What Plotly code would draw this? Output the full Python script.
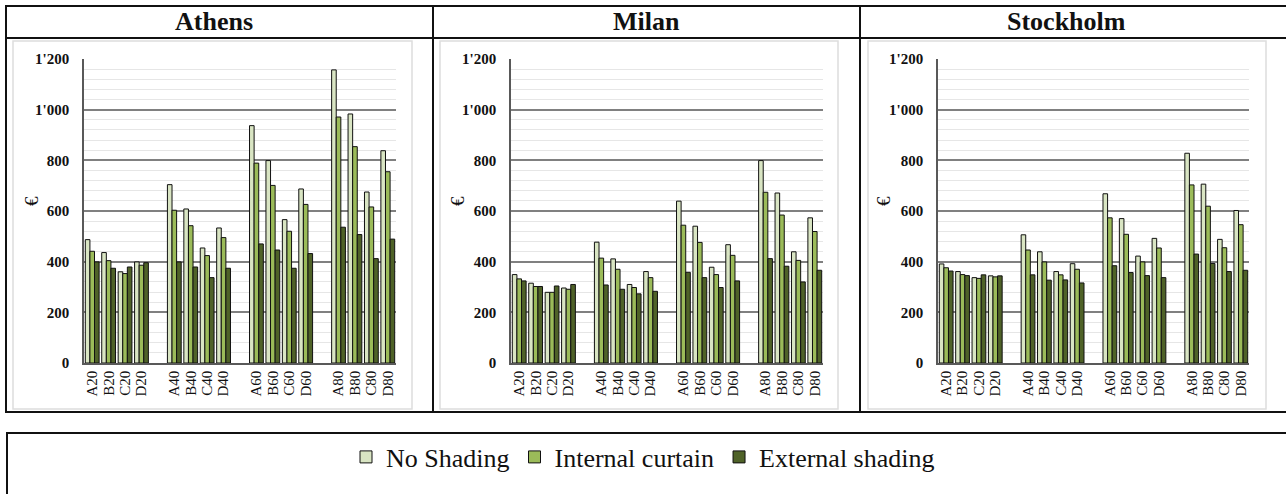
import plotly.graph_objects as go

W, H = 1286, 494
FONT = "Liberation Serif"

CATEGORIES = ["A20", "B20", "C20", "D20",
              "A40", "B40", "C40", "D40",
              "A60", "B60", "C60", "D60",
              "A80", "B80", "C80", "D80"]
SERIES = ["No Shading", "Internal curtain", "External shading"]
COLORS = ["#d9e5c3", "#9bbb59", "#4f6228"]
CITIES = ["Athens", "Milan", "Stockholm"]

# --- values (EUR) ---
athens_no_shading = [487, 436, 360, 399, 704, 608, 454, 533, 937, 799, 566, 687, 1157, 983, 675, 838]
athens_internal = [441, 404, 353, 386, 603, 542, 424, 495, 789, 701, 520, 626, 971, 854, 616, 755]
athens_external = [399, 374, 379, 396, 399, 379, 337, 374, 470, 446, 374, 432, 536, 507, 412, 489]

milan_no_shading = [349, 315, 279, 296, 477, 411, 310, 361, 639, 540, 378, 467, 799, 671, 439, 573]
milan_internal = [332, 302, 279, 291, 414, 370, 298, 337, 544, 476, 349, 425, 674, 584, 405, 519]
milan_external = [324, 302, 304, 310, 308, 291, 273, 283, 358, 337, 298, 324, 412, 382, 320, 366]

stockholm_no_shading = [391, 361, 337, 344, 506, 439, 361, 392, 668, 570, 422, 492, 828, 706, 488, 602]
stockholm_internal = [376, 349, 334, 340, 446, 399, 348, 370, 573, 508, 399, 454, 703, 619, 455, 546]
stockholm_external = [363, 345, 348, 344, 348, 327, 328, 316, 384, 357, 345, 337, 430, 393, 361, 366]

DATA = {
    "Athens": [athens_no_shading, athens_internal, athens_external],
    "Milan": [milan_no_shading, milan_internal, milan_external],
    "Stockholm": [stockholm_no_shading, stockholm_internal, stockholm_external],
}

# category order with an empty slot between the 20/40/60/80 groups
axis_order = []
for i, c in enumerate(CATEGORIES):
    if i and i % 4 == 0:
        axis_order.append(" " * (i // 4))
    axis_order.append(c)


def px_x(v):
    return v / W


def px_y(v):
    return 1 - v / H


# plot areas in pixels (left, right) and shared top/bottom
PLOT_X = [(84, 396), (511, 823), (938, 1249)]
PLOT_TOP, PLOT_BOTTOM = 59, 363
TITLE_X = [214, 646, 1066]
EURO_X = [31, 457, 883]

fig = go.Figure()

for k, city in enumerate(CITIES):
    suffix = "" if k == 0 else str(k + 1)
    for s, name in enumerate(SERIES):
        fig.add_trace(go.Bar(
            x=CATEGORIES, y=DATA[city][s], name=name,
            marker=dict(color=COLORS[s], line=dict(color="#111111", width=1)),
            xaxis="x" + suffix, yaxis="y" + suffix,
            showlegend=(k == 0), legendgroup=name,
        ))
    x0, x1 = PLOT_X[k]
    fig.update_layout(**{
        "xaxis" + suffix: dict(
            domain=[px_x(x0), px_x(x1)], anchor="y" + suffix,
            type="category", categoryorder="array", categoryarray=axis_order,
            range=[-0.5, len(axis_order) - 0.5],
            tickmode="array", tickvals=CATEGORIES, ticktext=CATEGORIES,
            tickangle=-90, tickfont=dict(family=FONT, size=15, color="#111111"),
            showline=True, linecolor="#595959", linewidth=1.5,
            showgrid=False, ticks="", automargin=False,
        ),
        "yaxis" + suffix: dict(
            domain=[px_y(PLOT_BOTTOM), px_y(PLOT_TOP)], anchor="x" + suffix,
            range=[0, 1200], dtick=200, tickformat=",d",
            tickfont=dict(family=FONT, size=15, color="#111111", weight="bold"),
            ticks="", ticklabelstandoff=10,
            showline=True, linecolor="#595959", linewidth=1.5,
            showgrid=True, gridcolor="#808080", gridwidth=1.5,
            minor=dict(dtick=40, showgrid=True, gridcolor="#e6e6e6", gridwidth=1),
            zeroline=False, automargin=False,
        ),
    })
    fig.add_annotation(
        x=px_x(TITLE_X[k]), y=px_y(22), xref="paper", yref="paper",
        xanchor="center", yanchor="middle",
        text="<b>" + city + "</b>", showarrow=False,
        font=dict(family=FONT, size=26, color="#111111"),
    )
    fig.add_annotation(
        x=px_x(EURO_X[k]), y=px_y(201), xref="paper", yref="paper",
        xanchor="center", yanchor="middle",
        text="€", textangle=-90, showarrow=False,
        font=dict(family=FONT, size=19, color="#111111"),
    )

# frames: outer boxes, title band, column separators, faint chart areas
shapes = [
    dict(type="rect", x0=px_x(6), x1=px_x(1300), y0=px_y(6), y1=px_y(412),
         line=dict(color="#111111", width=2)),
    dict(type="line", x0=px_x(6), x1=px_x(1300), y0=px_y(38), y1=px_y(38),
         line=dict(color="#111111", width=2)),
    dict(type="line", x0=px_x(433), x1=px_x(433), y0=px_y(6), y1=px_y(412),
         line=dict(color="#111111", width=2)),
    dict(type="line", x0=px_x(860), x1=px_x(860), y0=px_y(6), y1=px_y(412),
         line=dict(color="#111111", width=2)),
    dict(type="rect", x0=px_x(7), x1=px_x(1300), y0=px_y(433), y1=px_y(510),
         line=dict(color="#111111", width=2)),
]
for a, b in [(13, 412), (440, 838), (868, 1266)]:
    shapes.append(dict(type="rect", x0=px_x(a), x1=px_x(b), y0=px_y(41), y1=px_y(409),
                       line=dict(color="#dddddd", width=1.5), layer="below"))
for s in shapes:
    s.update(xref="paper", yref="paper")

fig.update_layout(
    width=W, height=H,
    margin=dict(l=0, r=0, t=0, b=0, pad=0, autoexpand=False),
    paper_bgcolor="white", plot_bgcolor="white",
    barmode="group", bargap=0.16, bargroupgap=0,
    shapes=shapes,
    separators=".'",
    font=dict(family=FONT, color="#111111"),
    legend=dict(orientation="h", x=0.5, xanchor="center", y=px_y(457), yanchor="middle",
                font=dict(family=FONT, size=26, color="#111111"),
                itemwidth=30, tracegroupgap=0, bgcolor="rgba(0,0,0,0)"),
)

fig.write_html("out.html", config={"displayModeBar": False},
               post_script="document.body.style.margin='0';")
